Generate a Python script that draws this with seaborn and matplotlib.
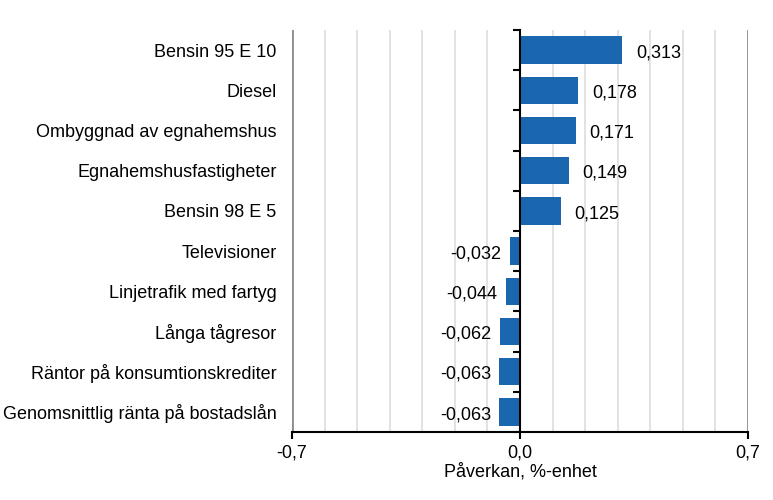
import numpy as np
import pandas as pd
import matplotlib.pyplot as plt
import seaborn as sns

# Data
categories = ['Bensin 95 E 10', 'Diesel', 'Ombyggnad av egnahemshus',
              'Egnahemshusfastigheter', 'Bensin 98 E 5', 'Televisioner',
              'Linjetrafik med fartyg', 'Långa tågresor',
              'Räntor på konsumtionskrediter', 'Genomsnittlig ränta på bostadslån']
values = [0.313, 0.178, 0.171, 0.149, 0.125, -0.032, -0.044, -0.062, -0.063, -0.063]
xticks = [-0.7, 0.0, 0.7]
xticklabels = ['-0,7', '0,0', '0,7']

sns.set_style('white')
plt.rcParams['font.family'] = ['Liberation Sans', 'DejaVu Sans']
plt.rcParams['font.size'] = 13
plt.rcParams['text.color'] = 'black'
plt.rcParams['axes.labelcolor'] = 'black'
plt.rcParams['xtick.color'] = 'black'
plt.rcParams['ytick.color'] = 'black'

df = pd.DataFrame({'cat': categories, 'val': values})

fig, ax = plt.subplots(figsize=(7.73, 5), dpi=100)
fig.subplots_adjust(left=0.3777, right=0.9677, top=0.94, bottom=0.136)

sns.barplot(data=df, x='val', y='cat', orient='h', color='#1a67b0',
            width=0.68, saturation=1, linewidth=0, ax=ax, zorder=3)

# value labels with comma decimal
for bar, v in zip(ax.patches, values):
    txt = f'{v:.3f}'.replace('.', ',')
    y = bar.get_y() + bar.get_height() / 2
    if v >= 0:
        ax.annotate(txt, (v, y), xytext=(10, -2), textcoords='offset points',
                    ha='left', va='center', fontsize=13, color='black')
    else:
        ax.annotate(txt, (v, y), xytext=(-6, -2), textcoords='offset points',
                    ha='right', va='center', fontsize=13, color='black')

ax.set_xlim(-0.7, 0.7)
ax.set_ylim(len(categories) - 0.5, -0.5)

# grid
for gx in np.arange(-6, 7) / 10:
    if abs(gx) > 1e-9:
        ax.axvline(gx, color='#dadada', lw=1.1, zorder=0)
for gx in (-0.7, 0.7):
    ax.axvline(gx, color='#8c8c8c', lw=2, zorder=1)

ax.set_xticks(xticks)
ax.set_xticklabels(xticklabels)
ax.tick_params(axis='x', direction='out', length=5, width=1.5, color='black',
               labelcolor='black', bottom=True, pad=4)
ax.tick_params(axis='y', length=0, pad=11, labelcolor='black')
ax.set_xlabel('Påverkan, %-enhet', fontsize=13, labelpad=1, color='black')
ax.set_ylabel('')

for s in ('top', 'right', 'left'):
    ax.spines[s].set_visible(False)
ax.spines['bottom'].set_color('black')
ax.spines['bottom'].set_linewidth(1.5)

# zero axis with category separator ticks
sec = ax.secondary_yaxis(0.5)
sec.set_yticks(np.arange(len(categories) + 1) - 0.5)
sec.set_yticklabels([])
sec.yaxis.set_ticks_position('left')
sec.tick_params(direction='out', length=5, width=1.5, color='black',
                left=True, right=False)
for s in sec.spines.values():
    s.set_linewidth(1.5)
    s.set_color('black')
sec.set_zorder(5)

fig.savefig('out.png', dpi=100)
